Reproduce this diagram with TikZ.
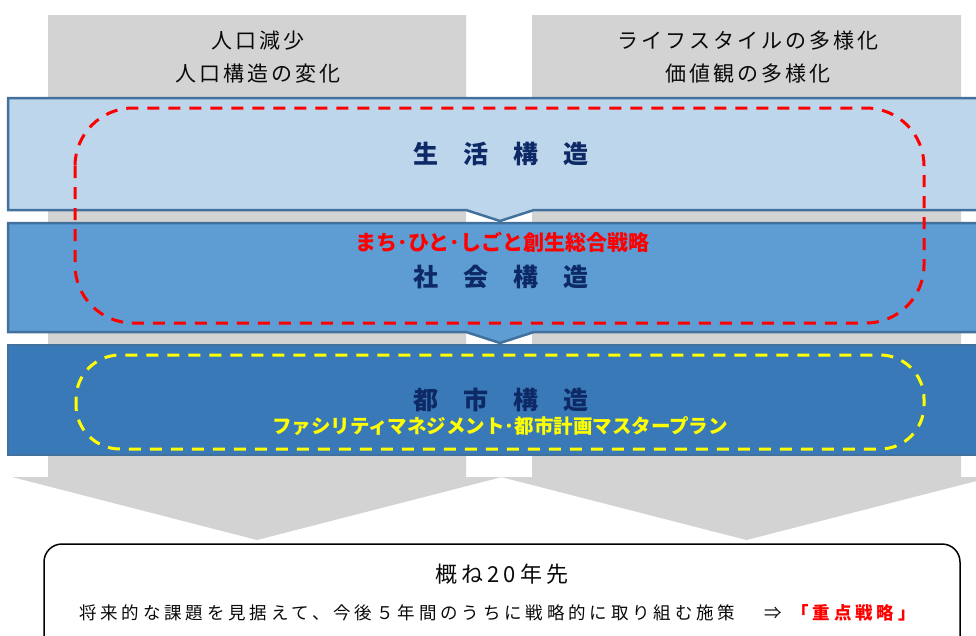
\documentclass[tikz,border=0pt]{standalone}
\usepackage{fontspec}
\newfontfamily\jp{Noto Sans CJK JP}
\definecolor{colgray}{RGB}{211,211,211}
\definecolor{bord}{RGB}{65,113,156}
\definecolor{bandA}{RGB}{189,214,236}
\definecolor{bandB}{RGB}{94,156,212}
\definecolor{bandC}{RGB}{57,121,183}
\definecolor{navy}{RGB}{14,42,102}
\definecolor{redd}{RGB}{255,0,0}
\definecolor{yel}{RGB}{255,255,0}
\definecolor{txt}{RGB}{10,10,10}
\tikzset{
  column/.style={fill=colgray},
  band/.style={draw=bord, line width=2.5pt, line join=miter},
  redloop/.style={draw=redd, line width=3pt, dash pattern=on 12pt off 9pt, rounded corners=58pt},
  yelloop/.style={draw=yel, line width=3pt, dash pattern=on 12pt off 9pt, rounded corners=44pt},
  toptext/.style={inner sep=0pt, text=txt, font={\jp\fontsize{21}{25}\selectfont\addfontfeatures{LetterSpace=14}}},
  bandtitle/.style={inner sep=0pt, text=navy, font={\jp\bfseries\fontsize{25}{29}\selectfont}},
  redlabel/.style={inner sep=0pt, text=redd, font={\jp\bfseries\fontsize{21}{25}\selectfont}},
  yellabel/.style={inner sep=0pt, text=yel, font={\jp\bfseries\fontsize{19.5}{23}\selectfont}},
  resultbox/.style={draw=black, line width=1.5pt, fill=white, rounded corners=18pt},
}
\begin{document}
\begin{tikzpicture}[x=1pt,y=-1pt]
\useasboundingbox (0,0) rectangle (976,635);
\clip (0,0) rectangle (976,635);
% gray columns with arrow heads
\fill[column] (48,15) -- (466,15) -- (466,477) -- (502,477) -- (257,540) -- (12,477) -- (48,477) -- cycle;
\fill[column] (532,15) -- (961,15) -- (961,477) -- (992,477) -- (746.5,540) -- (501,477) -- (532,477) -- cycle;
% bands
\draw[band, fill=bandA] (8,98) -- (995,98) -- (995,210) -- (534,210) -- (500,221) -- (466,210) -- (8,210) -- cycle;
\draw[band, fill=bandB] (8,223) -- (995,223) -- (995,332) -- (534,332) -- (500,343) -- (466,332) -- (8,332) -- cycle;
\draw[band, fill=bandC] (8,345) -- (995,345) -- (995,455) -- (8,455) -- cycle;
% dashed loops
\draw[redloop] (75,108) rectangle (924,323);
\draw[yelloop] (76,355) rectangle (924,449);
% top texts
\node[toptext] (l1) at (258,41) {人口減少};
\node[toptext] (l2) at (258,74) {人口構造の変化};
\node[toptext] (r1) at (748,41) {ライフスタイルの多様化};
\node[toptext] (r2) at (748,74) {価値観の多様化};
% band titles
\node[bandtitle] (t1) at (500.5,154) {生　活　構　造};
\node[bandtitle] (t2) at (500.5,277) {社　会　構　造};
\node[bandtitle] (t3) at (501,400) {都　市　構　造};
\node[redlabel] (s1) at (502.5,242) {まち･ひと･しごと創生総合戦略};
\node[yellabel] (s2) at (500,426) {ファシリティマネジメント･都市計画マスタープラン};
% result box
\draw[resultbox] (44,544) rectangle (960,670);
\node[inner sep=0pt, text=txt, font={\jp\fontsize{22}{26}\selectfont\addfontfeatures{LetterSpace=18}}] (goal) at (502,574) {概ね20年先};
\node[inner sep=0pt, anchor=west, text=txt, font={\jp\fontsize{17.5}{21}\selectfont\addfontfeatures{LetterSpace=22}}] (desc) at (79,613) {将来的な課題を見据えて、今後５年間のうちに戦略的に取り組む施策　\hspace{8pt}⇒\hspace{9pt}{\color{redd}\bfseries「重点戦略」}};
\end{tikzpicture}
\end{document}
